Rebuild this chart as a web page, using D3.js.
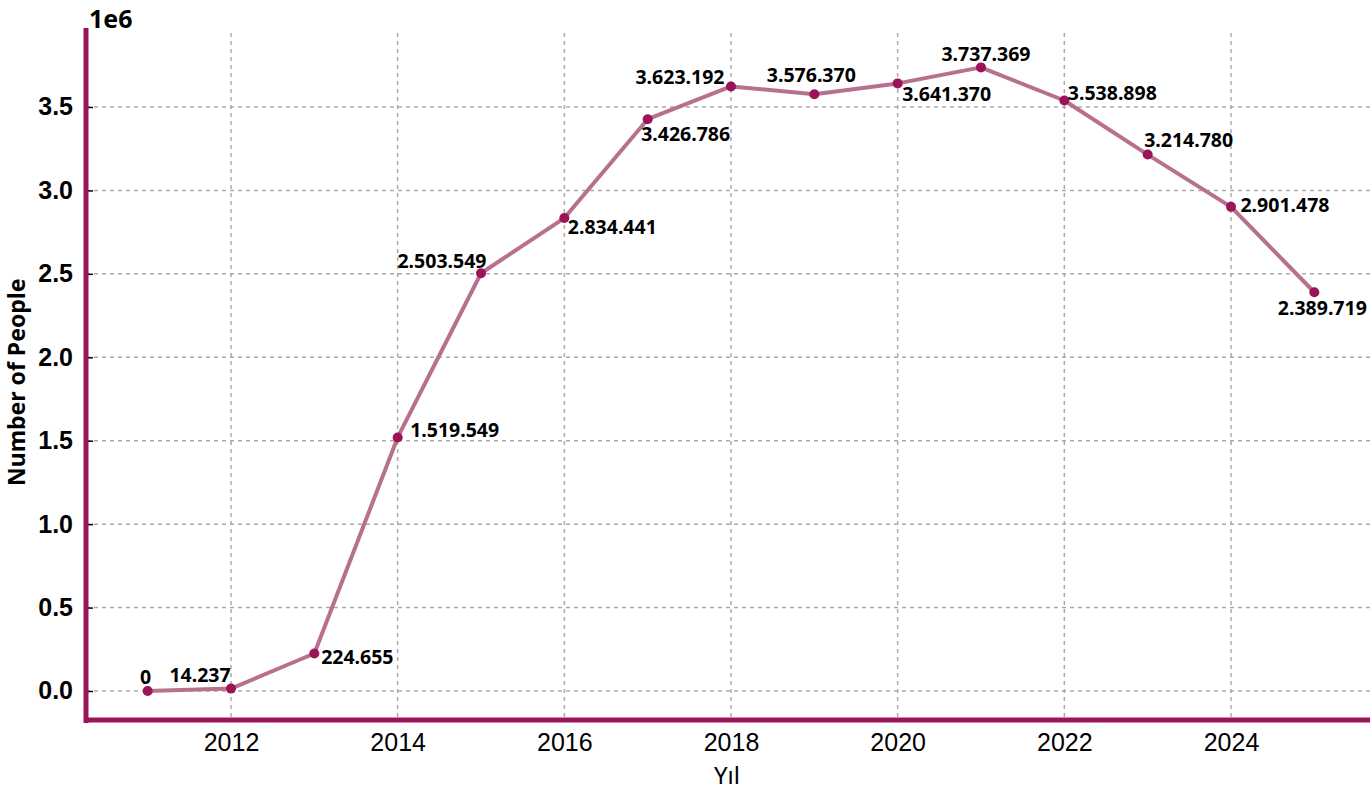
<!DOCTYPE html>
<meta charset="utf-8">
<style>
body { margin: 0; background: #fff; }
svg { font-family: "Noto Sans", sans-serif; }
.grid line { stroke: #aaaaaa; stroke-width: 1.5px; stroke-dasharray: 4,4; }
.axis path { display: none; }
.axis--y line { stroke: #000; stroke-width: 1.5px; }
.axis--x line { display: none; }
.axis--y text { font-size: 25px; font-weight: bold; fill: #000; }
.axis--x text { font-size: 25px; fill: #000; }
.line { fill: none; stroke: #b8708f; stroke-width: 4px; stroke-linejoin: round; }
.dot { fill: #9b1458; }
.label { font-size: 19.5px; font-weight: bold; fill: #000; }
.spine { stroke: #9b1458; stroke-width: 5px; }
</style>
<svg width="1370" height="790"></svg>
<script src="https://d3js.org/d3.v7.min.js"></script>
<script>

var years = [2011, 2012, 2013, 2014, 2015, 2016, 2017, 2018, 2019, 2020, 2021, 2022, 2023, 2024, 2025];
var people = [0, 14237, 224655, 1519549, 2503549, 2834441, 3426786, 3623192, 3576370, 3641370, 3737369, 3538898, 3214780, 2901478, 2389719];
var labels = ["0", "14.237", "224.655", "1.519.549", "2.503.549", "2.834.441", "3.426.786", "3.623.192",
              "3.576.370", "3.641.370", "3.737.369", "3.538.898", "3.214.780", "2.901.478", "2.389.719"];
var xTicks = [2012, 2014, 2016, 2018, 2020, 2022, 2024];
var yTicks = [0, 500000, 1000000, 1500000, 2000000, 2500000, 3000000, 3500000];
var yTickLabels = ["0.0", "0.5", "1.0", "1.5", "2.0", "2.5", "3.0", "3.5"];

// label placement (px from the point), roughly where the original put them
var labelOffset = [[-2, -14], [-31, -14], [43, 3], [57, -8], [-39, -13], [48, 8], [38, 14], [-51, -10],
                   [-3, -20], [49, 10], [5, -14], [48, -8], [41, -15], [54, -2], [8, 15]];

var data = years.map(function(y, i) {
  return {year: y, value: people[i], label: labels[i], off: labelOffset[i]};
});

var svg = d3.select("svg"),
    margin = {top: 30, right: 0, bottom: 70, left: 86},
    width = +svg.attr("width") - margin.left - margin.right,
    height = +svg.attr("height") - margin.top - margin.bottom;

var x = d3.scaleLinear().domain([2010.26, 2025.668]).range([0, width]),
    y = d3.scaleLinear().domain([-173800, 3961400]).range([height, 0]);

var g = svg.append("g")
    .attr("transform", "translate(" + margin.left + "," + margin.top + ")");

// grid
g.append("g").attr("class", "grid")
  .selectAll("line").data(yTicks).enter().append("line")
    .attr("x1", 0).attr("x2", width)
    .attr("y1", function(d) { return y(d); }).attr("y2", function(d) { return y(d); });

g.append("g").attr("class", "grid")
  .selectAll("line").data(xTicks).enter().append("line")
    .attr("y1", 3).attr("y2", height)
    .attr("x1", function(d) { return x(d); }).attr("x2", function(d) { return x(d); });

// axes
g.append("g")
    .attr("class", "axis axis--y")
    .attr("transform", "translate(7,0)")
    .call(d3.axisLeft(y).tickValues(yTicks).tickSize(6).tickPadding(14)
      .tickFormat(function(d, i) { return yTickLabels[i]; }));

g.append("g")
    .attr("class", "axis axis--x")
    .attr("transform", "translate(0," + height + ")")
    .call(d3.axisBottom(x).tickValues(xTicks).tickSize(0).tickPadding(13).tickFormat(d3.format("d")));

// spines
g.append("line").attr("class", "spine")
    .attr("x1", 0).attr("x2", 0).attr("y1", -2).attr("y2", height + 3);
g.append("line").attr("class", "spine")
    .attr("x1", -2).attr("x2", width).attr("y1", height).attr("y2", height);

// line + points
var valueline = d3.line()
    .x(function(d) { return x(d.year); })
    .y(function(d) { return y(d.value); });

g.append("path").datum(data).attr("class", "line").attr("d", valueline);

g.selectAll(".dot").data(data).enter().append("circle")
    .attr("class", "dot")
    .attr("r", 5)
    .attr("cx", function(d) { return x(d.year); })
    .attr("cy", function(d) { return y(d.value); });

g.selectAll(".label").data(data).enter().append("text")
    .attr("class", "label")
    .attr("text-anchor", "middle")
    .attr("dominant-baseline", "central")
    .attr("x", function(d) { return x(d.year) + d.off[0]; })
    .attr("y", function(d) { return y(d.value) + d.off[1]; })
    .text(function(d) { return d.label; });

// titles
svg.append("text")
    .attr("x", 89).attr("y", 28)
    .attr("font-size", 25).attr("font-weight", "bold")
    .text("1e6");

svg.append("text")
    .attr("x", 727).attr("y", 784)
    .attr("text-anchor", "middle")
    .attr("font-size", 24)
    .text("Yıl");

svg.append("text")
    .attr("transform", "translate(25," + (margin.top + y(1850000)) + ") rotate(-90)")
    .attr("text-anchor", "middle")
    .attr("font-size", 23).attr("font-weight", "bold")
    .text("Number of People");

</script>
